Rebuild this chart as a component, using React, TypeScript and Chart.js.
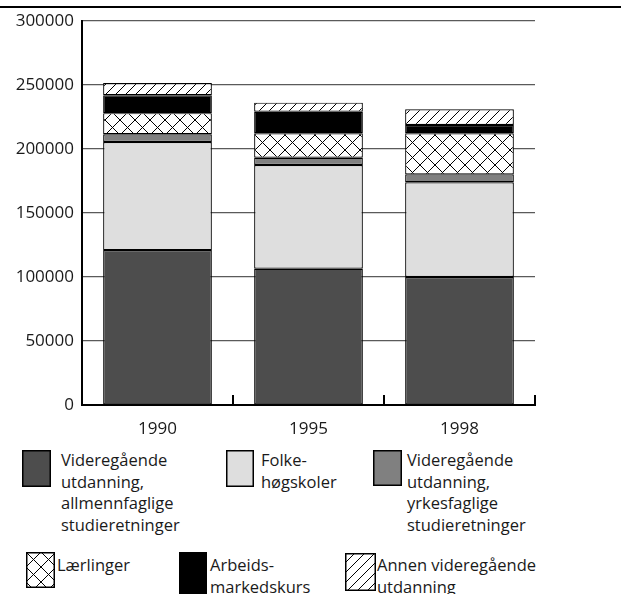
import React, { useEffect, useRef } from "react";
import { Chart, registerables } from "chart.js";

Chart.register(...registerables);

const categories = ["1990", "1995", "1998"];
const seriesLabels = [
  "Videregående\nutdanning,\nallmennfaglige\nstudieretninger",
  "Folke-\nhøgskoler",
  "Videregående\nutdanning,\nyrkesfaglige\nstudieretninger",
  "Lærlinger",
  "Arbeids-\nmarkedskurs",
  "Annen videregående\nutdanning",
];
const allmennfaglige = [121000, 106500, 100000];
const folkehogskoler = [84500, 81000, 74000];
const yrkesfaglige = [6000, 5700, 6200];
const laerlinger = [16500, 19100, 32100];
const arbeidsmarkedskurs = [14000, 16800, 6500];
const annen = [9500, 7100, 12200];
const seriesValues = [allmennfaglige, folkehogskoler, yrkesfaglige, laerlinger, arbeidsmarkedskurs, annen];
const seriesFills = ["#4d4d4d", "#dedede", "#808080", "cross", "#000000", "hatch"];
const yTicks = [0, 50000, 100000, 150000, 200000, 250000, 300000];

const FONT = "'Open Sans', 'DejaVu Sans', sans-serif";
const TEXT = "#1a1a1a";

function makePattern(ctx: CanvasRenderingContext2D, kind: string): CanvasPattern | string {
  const size = kind === "cross" ? 15 : 10;
  const c = document.createElement("canvas");
  c.width = size;
  c.height = size;
  const g = c.getContext("2d")!;
  g.fillStyle = "#ffffff";
  g.fillRect(0, 0, size, size);
  g.strokeStyle = "#000000";
  g.lineWidth = 1;
  const line = (x1: number, y1: number, x2: number, y2: number) => {
    g.beginPath();
    g.moveTo(x1, y1);
    g.lineTo(x2, y2);
    g.stroke();
  };
  line(-2, size + 2, size + 2, -2);
  line(-2, 2, 2, -2);
  line(size - 2, size + 2, size + 2, size - 2);
  if (kind === "cross") {
    line(-2, -2, size + 2, size + 2);
    line(size - 2, -2, size + 2, 2);
    line(-2, size - 2, 2, size + 2);
  }
  return ctx.createPattern(c, "repeat") || "#fff";
}

function resolveFill(ctx: CanvasRenderingContext2D, f: string) {
  if (f === "cross" || f === "hatch") return makePattern(ctx, f);
  return f;
}

function Swatch(props: { fill: string; w: number; h: number; left: number; top: number }) {
  const ref = useRef<HTMLCanvasElement>(null);
  useEffect(() => {
    const c = ref.current!;
    const g = c.getContext("2d")!;
    g.clearRect(0, 0, props.w, props.h);
    g.fillStyle = resolveFill(g, props.fill) as any;
    g.fillRect(0, 0, props.w, props.h);
    g.strokeStyle = "#000";
    g.lineWidth = 1.5;
    g.strokeRect(0.75, 0.75, props.w - 1.5, props.h - 1.5);
  }, [props.fill, props.w, props.h]);
  return (
    <canvas
      ref={ref}
      width={props.w}
      height={props.h}
      style={{ position: "absolute", left: props.left, top: props.top, width: props.w, height: props.h }}
    />
  );
}

const legendLayout = [
  { sl: 22, st: 450, sw: 29, sh: 37, tl: 61, tt: 449 },
  { sl: 226, st: 450, sw: 28, sh: 37, tl: 261, tt: 449 },
  { sl: 373, st: 450, sw: 29, sh: 36, tl: 407, tt: 449 },
  { sl: 26, st: 552, sw: 29, sh: 36, tl: 57, tt: 554 },
  { sl: 179, st: 552, sw: 28, sh: 42, tl: 210, tt: 554 },
  { sl: 345, st: 553, sw: 31, sh: 38, tl: 377, tt: 554 },
];

const upTicks = {
  id: "upTicks",
  afterDraw(chart: any) {
    const x = chart.scales.x;
    const bottom = chart.chartArea.bottom;
    const step = x.getPixelForValue(1) - x.getPixelForValue(0);
    const g = chart.ctx;
    g.save();
    g.strokeStyle = "#000";
    g.lineWidth = 2;
    for (let i = 0; i < categories.length; i++) {
      const px = Math.round(x.getPixelForValue(i) + step / 2);
      g.beginPath();
      g.moveTo(px, bottom);
      g.lineTo(px, bottom - 10);
      g.stroke();
    }
    g.restore();
  },
};

export default function App() {
  const canvasRef = useRef<HTMLCanvasElement>(null);
  useEffect(() => {
    const canvas = canvasRef.current!;
    const ctx = canvas.getContext("2d")!;
    const chart = new Chart(ctx, {
      type: "bar",
      data: {
        labels: categories,
        datasets: seriesValues.map((vals, i) => ({
          label: seriesLabels[i].replace(/\n/g, " "),
          data: vals,
          backgroundColor: resolveFill(ctx, seriesFills[i]) as any,
          borderColor: "#000",
          borderWidth: 1.2,
          borderSkipped: false,
          barPercentage: 0.72,
          categoryPercentage: 1,
        })),
      },
      options: {
        responsive: false,
        devicePixelRatio: 1,
        animation: false,
        layout: { padding: { left: 0, right: 86, top: 21, bottom: 0 } },
        plugins: { legend: { display: false }, tooltip: { enabled: false } },
        scales: {
          x: {
            stacked: true,
            grid: { display: false },
            border: { display: true, color: "#000", width: 2 },
            ticks: { color: TEXT, font: { family: FONT, size: 17 }, padding: 6 },
            afterFit: (s: any) => {
              s.height = 35;
            },
          },
          y: {
            stacked: true,
            min: 0,
            max: 300000,
            afterBuildTicks: (s: any) => {
              s.ticks = yTicks.map((v) => ({ value: v }));
            },
            grid: { color: "#5a5a5a", lineWidth: 1.2, drawTicks: false },
            border: { display: true, color: "#000", width: 2 },
            ticks: {
              color: TEXT,
              font: { family: FONT, size: 17 },
              padding: 8,
              callback: (v: any) => String(v),
            },
            afterFit: (s: any) => {
              s.width = 82;
            },
          },
        },
      },
      plugins: [upTicks],
    });
    return () => chart.destroy();
  }, []);

  return (
    <div style={{ position: "absolute", left: 0, top: 0, width: 621, height: 594, overflow: "hidden", background: "#fff" }}>
      <div style={{ position: "absolute", left: 0, top: 6, width: 621, height: 2, background: "#000" }} />
      <canvas
        ref={canvasRef}
        width={621}
        height={440}
        style={{ position: "absolute", left: 0, top: 0, width: 621, height: 440 }}
      />
      {legendLayout.map((L, i) => (
        <React.Fragment key={i}>
          <Swatch fill={seriesFills[i]} w={L.sw} h={L.sh} left={L.sl} top={L.st} />
          <div
            style={{
              position: "absolute",
              left: L.tl,
              top: L.tt,
              fontFamily: FONT,
              fontSize: 16.5,
              lineHeight: "21.7px",
              color: TEXT,
              whiteSpace: "pre",
            }}
          >
            {seriesLabels[i]}
          </div>
        </React.Fragment>
      ))}
    </div>
  );
}
